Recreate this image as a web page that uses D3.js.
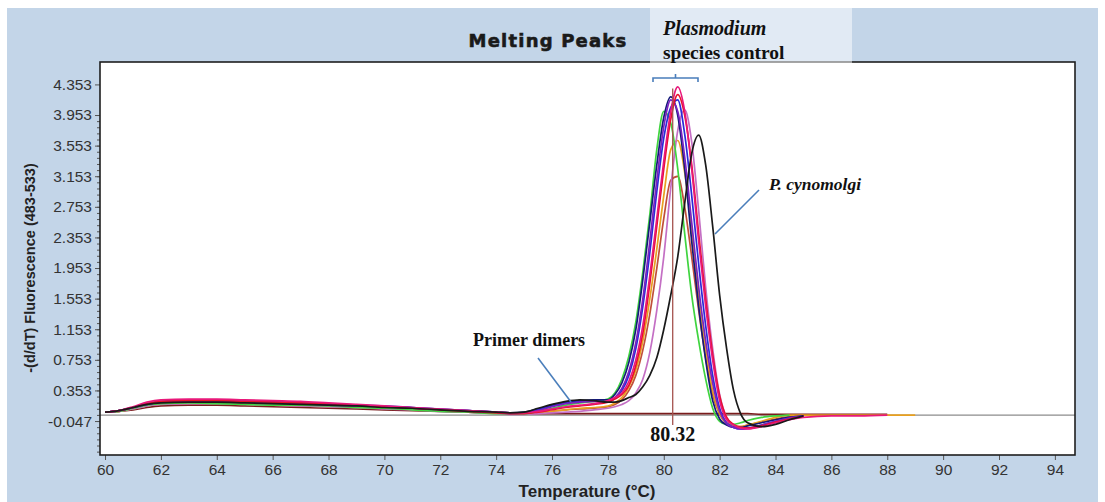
<!DOCTYPE html>
<html><head><meta charset="utf-8">
<script src="https://cdn.jsdelivr.net/npm/d3@7"></script>
<style>body{margin:0;background:#fff}svg{display:block}</style>
</head><body><svg id="c" width="1105" height="502"></svg>
<script>
// ---------- data ----------
const temps = [60,60.5,61,61.5,62,63,64,65,66,67,68,69,70,71,72,73,74,74.5,75,75.5,76,76.5,77,77.5,
  78,78.25,78.5,78.75,79,79.25,79.5,79.75,80,80.25,80.5,80.75,81,81.25,81.5,81.75,82,82.25,82.5,82.75,83,
  83.5,84,84.5,85,86,87,88,89];
const xTicks = [60,62,64,66,68,70,72,74,76,78,80,82,84,86,88,90,92,94];
const yTicks = [-0.047,0.353,0.753,1.153,1.553,1.953,2.353,2.753,3.153,3.553,3.953,4.353];
const yTickLabels = ["-0.047","0.353","0.753","1.153","1.553","1.953","2.353","2.753","3.153","3.553","3.953","4.353"];
const peakTemp = 80.32;
const baselineValue = 0.03;

const maroon = [0.07,0.08,0.1,0.13,0.15,0.16,0.16,0.15,0.14,0.13,0.12,0.11,0.1,0.09,0.08,0.07,0.06,0.05,0.05,0.05,0.05,0.05,0.05,0.05,
  0.05,0.05,0.05,0.05,0.05,0.05,0.05,0.05,0.05,0.05,0.05,0.05,0.05,0.05,0.05,0.05,0.05,0.05,0.05,0.05,0.05,
  0.04,0.04,0.04,0.04,0.04,0.04,0.04,null];
const brown = [0.07,0.08,0.11,0.15,0.17,0.18,0.18,0.17,0.16,0.15,0.14,0.13,0.12,0.1,0.09,0.07,0.06,0.05,0.05,0.06,0.08,0.1,0.11,0.12,
  0.14,0.17,0.23,0.35,0.55,0.88,1.35,1.95,2.6,3.1,3.15,2.75,2.1,1.4,0.78,0.3,0.04,-0.08,-0.12,-0.12,-0.1,
  -0.06,-0.02,0.01,0.03,null,null,null,null];
const orange = [0.07,0.08,0.12,0.16,0.19,0.2,0.2,0.19,0.18,0.17,0.16,0.14,0.12,0.11,0.09,0.08,0.06,0.05,0.05,0.06,0.08,0.1,0.12,0.13,
  0.15,0.19,0.26,0.4,0.62,1.0,1.55,2.2,2.9,3.5,3.62,3.2,2.45,1.6,0.9,0.35,0.05,-0.07,-0.11,-0.12,-0.1,
  -0.05,0.0,0.03,0.03,0.03,0.03,0.03,0.03];
const orchid = [0.07,0.08,0.11,0.15,0.17,0.18,0.18,0.17,0.16,0.15,0.14,0.13,0.11,0.1,0.08,0.07,0.05,0.04,0.04,0.05,0.06,0.07,0.08,0.1,
  0.12,0.14,0.17,0.22,0.32,0.5,0.85,1.4,2.1,3.0,3.75,4.02,3.6,2.7,1.7,0.9,0.3,0.0,-0.1,-0.14,-0.15,
  -0.11,-0.06,-0.02,0.01,null,null,null,null];
const green = [0.07,0.08,0.12,0.16,0.18,0.19,0.18,0.17,0.16,0.16,0.15,0.13,0.12,0.1,0.08,0.07,0.05,0.05,0.05,0.08,0.12,0.16,0.19,0.21,
  0.24,0.32,0.5,0.8,1.25,1.9,2.65,3.5,4.0,3.85,3.25,2.4,1.6,1.0,0.5,0.12,-0.05,-0.09,-0.09,-0.07,-0.04,
  0.0,0.02,0.03,null,null,null,null,null];
const navy = [0.07,0.09,0.13,0.18,0.21,0.23,0.22,0.21,0.2,0.19,0.17,0.16,0.14,0.12,0.1,0.09,0.07,0.06,0.07,0.11,0.16,0.2,0.22,0.23,
  0.23,0.3,0.45,0.72,1.15,1.8,2.55,3.3,3.92,4.19,3.95,3.25,2.3,1.45,0.75,0.22,-0.02,-0.1,-0.13,-0.13,-0.11,
  -0.07,-0.03,0.0,0.02,null,null,null,null];
const blue = [0.07,0.09,0.13,0.17,0.2,0.22,0.22,0.21,0.2,0.18,0.17,0.16,0.15,0.13,0.11,0.09,0.07,0.06,0.06,0.1,0.15,0.19,0.21,0.22,
  0.2,0.25,0.35,0.55,0.9,1.45,2.15,2.95,3.65,4.05,4.15,3.7,2.9,2.0,1.2,0.55,0.12,-0.07,-0.13,-0.15,-0.14,
  -0.1,-0.05,-0.01,0.02,null,null,null,null];
const purple = [0.07,0.09,0.13,0.17,0.2,0.21,0.22,0.21,0.2,0.18,0.16,0.15,0.14,0.13,0.11,0.09,0.07,0.05,0.06,0.09,0.14,0.18,0.2,0.21,
  0.2,0.26,0.38,0.6,0.98,1.55,2.3,3.1,3.8,4.15,4.0,3.4,2.55,1.7,1.0,0.45,0.08,-0.08,-0.13,-0.15,-0.14,
  -0.1,-0.05,-0.01,0.02,null,null,null,null];
const red = [0.07,0.09,0.13,0.18,0.21,0.22,0.22,0.21,0.2,0.19,0.18,0.16,0.14,0.12,0.1,0.08,0.06,0.05,0.05,0.07,0.1,0.13,0.15,0.17,
  0.2,0.24,0.3,0.42,0.68,1.1,1.75,2.5,3.25,3.9,4.22,3.95,3.3,2.4,1.55,0.82,0.28,0.0,-0.09,-0.13,-0.14,
  -0.11,-0.06,-0.02,0.01,null,null,null,null];
const magenta = [0.07,0.09,0.14,0.2,0.23,0.24,0.24,0.23,0.22,0.21,0.19,0.17,0.15,0.13,0.11,0.09,0.07,0.06,0.06,0.08,0.11,0.14,0.16,0.18,
  0.22,0.26,0.32,0.47,0.75,1.2,1.85,2.6,3.35,4.0,4.32,4.0,3.25,2.3,1.45,0.75,0.22,-0.03,-0.1,-0.14,-0.15,
  -0.12,-0.07,-0.03,0.0,0.02,0.02,0.03,null];
const black = [0.07,0.09,0.13,0.17,0.19,0.2,0.2,0.19,0.18,0.17,0.16,0.15,0.13,0.12,0.1,0.08,0.07,0.06,0.07,0.12,0.17,0.21,0.23,0.22,
  0.2,0.2,0.22,0.26,0.3,0.4,0.55,0.78,1.15,1.6,2.1,2.8,3.45,3.69,3.3,2.5,1.6,0.9,0.35,0.05,-0.07,
  -0.12,-0.09,-0.03,0.02,null,null,null,null];

const seriesNames = ["maroon","brown","orange","orchid","green","navy","blue","purple","red","magenta","black"];
const seriesValues = [maroon,brown,orange,orchid,green,navy,blue,purple,red,magenta,black];
const seriesColors = ["#7a1c1c","#c0503a","#e8a020","#c46fc4","#3fd43f","#141a78","#2a2ad8","#7a22c0","#e8102a","#e8187a","#1a1a1a"];

// ---------- drawing ----------
const svg = d3.select("#c");
svg.append("rect").attr("x",7).attr("y",8).attr("width",1091).attr("height",494).attr("fill","#c3d5e8");

const L=100,R=1075,T=62,B=455;
const x = d3.scaleLinear().domain([59.82,94.72]).range([L,R]);
const y = d3.scaleLinear().domain([-0.491,4.646]).range([B,T]);

svg.append("rect").attr("x",L).attr("y",T).attr("width",R-L).attr("height",B-T).attr("fill","#fff");

// baseline
svg.append("line").attr("x1",L).attr("x2",R).attr("y1",y(baselineValue)).attr("y2",y(baselineValue))
  .attr("stroke","#8c8c8c").attr("stroke-width",1.3);

svg.append("clipPath").attr("id","pc").append("rect").attr("x",L).attr("y",T).attr("width",R-L).attr("height",B-T);
const gLines = svg.append("g").attr("clip-path","url(#pc)");
const line = d3.line().defined(d=>d[1]!==null).x(d=>x(d[0])).y(d=>y(d[1])).curve(d3.curveMonotoneX);
seriesValues.forEach((vals,i)=>{
  const pts = temps.map((t,j)=>[t, vals[j]===undefined?null:vals[j]]);
  gLines.append("path").attr("d",line(pts)).attr("fill","none")
    .attr("stroke",seriesColors[i]).attr("stroke-width",1.7).attr("stroke-linejoin","round");
});

// vertical marker
svg.append("line").attr("x1",x(peakTemp)).attr("x2",x(peakTemp)).attr("y1",y(4.3)).attr("y2",y(-0.1))
  .attr("stroke","#a5534e").attr("stroke-width",1.3);

// axes
const yMinor = d3.range(0,56).map(k=>-0.047-0.4+0.08*k).filter(v=>v>=-0.491&&v<=4.646);
svg.append("g").attr("transform",`translate(${L},0)`)
  .call(d3.axisLeft(y).tickValues(yMinor).tickSize(3).tickFormat(""))
  .call(g=>{g.select(".domain").remove();g.selectAll("line").attr("stroke","#555");});
const yAx = svg.append("g").attr("transform",`translate(${L},0)`)
  .call(d3.axisLeft(y).tickValues(yTicks).tickSize(5).tickPadding(3).tickFormat((d,i)=>yTickLabels[i]));
yAx.select(".domain").remove();
yAx.selectAll("line").attr("stroke","#555");
yAx.selectAll("text").attr("font-family","Liberation Sans, Arial, sans-serif").attr("font-size",15.5).attr("fill","#333");

const xAx = svg.append("g").attr("transform",`translate(0,${B})`)
  .call(d3.axisBottom(x).tickValues(xTicks).tickSize(5).tickPadding(4).tickFormat(d3.format("d")));
xAx.select(".domain").remove();
xAx.selectAll("line").attr("stroke","#555");
xAx.selectAll("text").attr("font-family","Liberation Sans, Arial, sans-serif").attr("font-size",15.5).attr("fill","#333");

// frame
svg.append("rect").attr("x",L).attr("y",T).attr("width",R-L).attr("height",B-T)
  .attr("fill","none").attr("stroke","#1e1e1e").attr("stroke-width",1.6);

// axis titles
svg.append("text").attr("transform","translate(35,268) rotate(-90)").attr("text-anchor","middle")
  .attr("font-family","Liberation Sans, Arial, sans-serif").attr("font-weight","bold").attr("font-size",14.5).attr("fill","#222")
  .text("-(d/dT) Fluorescence (483-533)");
svg.append("text").attr("x",587).attr("y",497).attr("text-anchor","middle")
  .attr("font-family","Liberation Sans, Arial, sans-serif").attr("font-weight","bold").attr("font-size",17).attr("fill","#222")
  .text("Temperature (°C)");

// title
svg.append("text").attr("x",548).attr("y",47).attr("text-anchor","middle")
  .attr("font-family","DejaVu Sans, Verdana, sans-serif").attr("font-weight","bold").attr("font-size",18).attr("fill","#1a1a1a")
  .attr("stroke","#1a1a1a").attr("stroke-width",0.6)
  .attr("letter-spacing",1.2).text("Melting Peaks");

// annotation box
svg.append("rect").attr("x",650).attr("y",8).attr("width",202).attr("height",55).attr("fill","#ffffff").attr("opacity",0.5);
svg.append("text").attr("x",663).attr("y",35).attr("font-family","Liberation Serif, Times New Roman, serif")
  .attr("font-style","italic").attr("font-weight","bold").attr("font-size",20).attr("fill","#111").text("Plasmodium");
svg.append("text").attr("x",663).attr("y",59).attr("font-family","Liberation Serif, Times New Roman, serif")
  .attr("font-weight","bold").attr("font-size",19.5).attr("fill","#111").text("species control");

// brace
const bx1=653,bx2=698,by=78;
svg.append("path").attr("d",`M${bx1},${by+4} L${bx1},${by} L${bx2},${by} L${bx2},${by+4} M${(bx1+bx2)/2},${by} L${(bx1+bx2)/2},${by-4}`)
  .attr("fill","none").attr("stroke","#4a7ebb").attr("stroke-width",1.6);

// P. cynomolgi
svg.append("line").attr("x1",715).attr("y1",234).attr("x2",759).attr("y2",190).attr("stroke","#4a7ebb").attr("stroke-width",1.6);
svg.append("text").attr("x",769).attr("y",190).attr("font-family","Liberation Serif, Times New Roman, serif")
  .attr("font-style","italic").attr("font-weight","bold").attr("font-size",17.5).attr("fill","#111").text("P. cynomolgi");

// primer dimers
svg.append("line").attr("x1",538).attr("y1",358).attr("x2",571).attr("y2",402).attr("stroke","#4a7ebb").attr("stroke-width",1.5);
svg.append("text").attr("x",473).attr("y",346).attr("font-family","Liberation Serif, Times New Roman, serif")
  .attr("font-weight","bold").attr("font-size",18).attr("fill","#111").text("Primer dimers");

// 80.32
svg.append("text").attr("x",x(peakTemp)).attr("y",441).attr("text-anchor","middle")
  .attr("font-family","Liberation Serif, Times New Roman, serif").attr("font-weight","bold").attr("font-size",20).attr("fill","#111")
  .text("80.32");
</script></body></html>
